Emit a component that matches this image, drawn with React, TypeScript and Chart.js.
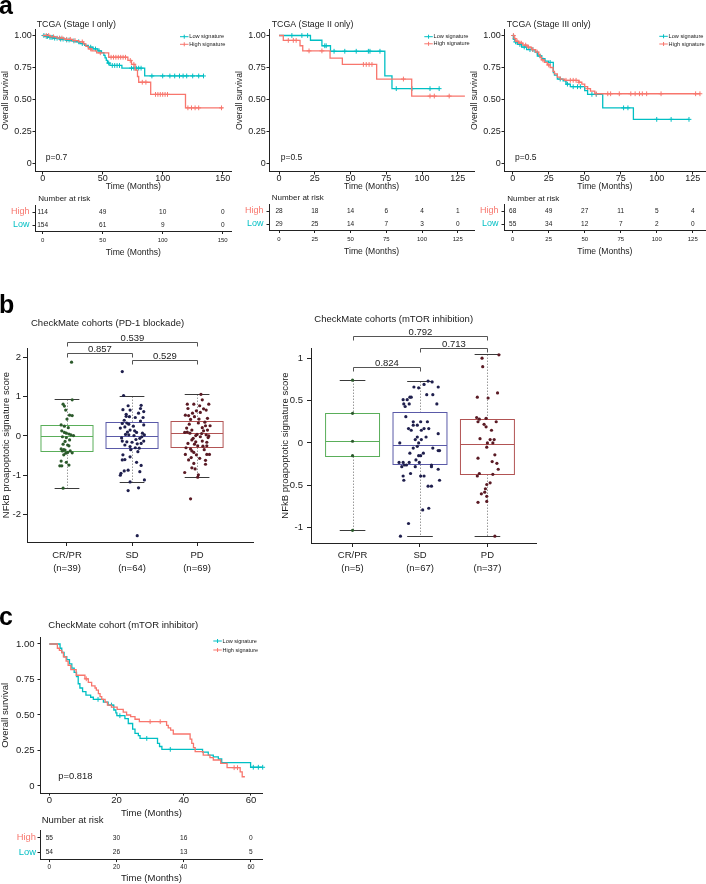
import React, { useEffect, useRef } from 'react';
import { Chart, registerables } from 'chart.js';

Chart.register(...registerables);

const W = 706;
const H = 884;
const FONT = '"Liberation Sans", Arial, Helvetica, sans-serif';
const RED = '#F8766D';
const TEAL = '#00BFC4';
const INK = '#1a1a1a';
const AXIS = '#222222';

type Step = [number, number];
type Jit = [number, number];

// ---------------- Panel a: TCGA Kaplan-Meier ----------------
const kmYTicks = [0, 0.25, 0.5, 0.75, 1];
const kmYLabels = ['0', '0.25', '0.50', '0.75', '1.00'];

const stage1Ticks = [0, 50, 100, 150];
const stage1Low: Step[] = [[0, 1], [2, 0.993], [5, 0.986], [9, 0.979], [14, 0.972], [19, 0.965], [24, 0.958], [28, 0.951], [31, 0.937], [35, 0.923], [38, 0.909], [42, 0.895], [46, 0.88], [49, 0.866], [51, 0.845], [52, 0.825], [53, 0.805], [54, 0.785], [56, 0.766], [66, 0.745], [85, 0.684]];
const stage1LowEnd = 134;
const stage1LowCens = [1, 3, 4, 6, 7, 8, 10, 12, 15, 17, 20, 22, 26, 30, 33, 40, 44, 47, 55, 58, 60, 62, 64, 74, 76, 78, 80, 82, 91, 100, 106, 110, 114, 117, 120, 125, 130, 134];
const stage1High: Step[] = [[0, 1], [6, 0.99], [12, 0.98], [18, 0.97], [25, 0.96], [30, 0.95], [34, 0.935], [36, 0.915], [38, 0.895], [41, 0.88], [45, 0.865], [55, 0.83], [71, 0.805], [74, 0.775], [77, 0.73], [79, 0.68], [80, 0.635], [90, 0.54], [119, 0.435]];
const stage1HighEnd = 150;
const stage1HighCens = [3, 5, 9, 14, 16, 20, 23, 27, 33, 40, 48, 57, 59, 61, 63, 65, 67, 69, 73, 76, 83, 86, 94, 96, 98, 100, 102, 104, 121, 124, 127, 130, 149];

const stage23Ticks = [0, 25, 50, 75, 100, 125];
const stage2Low: Step[] = [[0, 1], [22, 0.963], [30, 0.92], [36, 0.877], [74, 0.685], [79, 0.585]];
const stage2LowEnd = 112;
const stage2LowCens = [9, 16, 20, 32, 33, 38.5, 46, 54, 62.5, 63.6, 70.6, 82, 93, 105.6, 112];
const stage2High: Step[] = [[0, 1], [3, 0.962], [14.7, 0.92], [16.6, 0.88], [35.7, 0.824], [44.3, 0.774], [68.3, 0.66], [92.8, 0.527]];
const stage2HighEnd = 130;
const stage2HighCens = [6.5, 10, 12, 21, 30, 59, 61, 63, 65, 87, 105.6, 108.6, 119];

const stage3Low: Step[] = [[0, 1], [0.5, 0.97], [1.6, 0.95], [3.2, 0.93], [6.2, 0.91], [9.7, 0.89], [15.5, 0.87], [17.1, 0.84], [20.1, 0.82], [22.4, 0.8], [24.8, 0.79], [28.2, 0.71], [29, 0.69], [31, 0.66], [35, 0.645], [37, 0.62], [40, 0.6], [50, 0.57], [52, 0.54], [62.5, 0.435], [83.8, 0.345]];
const stage3LowEnd = 122.4;
const stage3LowCens = [2, 5, 8, 12, 14, 19, 26, 33, 38, 42, 45, 47, 55, 58, 77, 80, 100, 110, 122.4];
const stage3High: Step[] = [[0, 1], [1, 0.975], [2, 0.955], [4, 0.94], [7, 0.925], [10, 0.91], [13, 0.89], [16, 0.87], [18, 0.85], [19, 0.83], [20, 0.81], [22, 0.79], [24, 0.77], [26, 0.75], [28, 0.72], [29, 0.7], [31, 0.675], [33, 0.66], [36, 0.65], [46, 0.635], [48, 0.62], [50, 0.6], [52, 0.585], [54, 0.565], [57, 0.545]];
const stage3HighEnd = 130;
const stage3HighCens = [0.5, 1.5, 3, 5, 6, 9, 11, 14, 17, 21, 25, 37, 40, 42, 44, 46, 52, 58, 66, 68, 74, 82, 85, 88, 90, 93, 103, 127, 130];

// Number at risk (panel a)
const risk1Times = [0, 50, 100, 150];
const risk1High = [114, 49, 10, 0];
const risk1Low = [154, 61, 9, 0];
const risk2Times = [0, 25, 50, 75, 100, 125];
const risk2High = [28, 18, 14, 6, 4, 1];
const risk2Low = [29, 25, 14, 7, 3, 0];
const risk3Times = [0, 25, 50, 75, 100, 125];
const risk3High = [68, 49, 27, 11, 5, 4];
const risk3Low = [55, 34, 12, 7, 2, 0];

// ---------------- Panel b: box plots ----------------
const boxCats = ['CR/PR', 'SD', 'PD'];
const pd1N = [39, 64, 69];
const pd1YTicks = [-2, -1, 0, 1, 2];
const pd1Q1 = [-0.38, -0.3, -0.27];
const pd1Med = [0.01, 0.01, 0.07];
const pd1Q3 = [0.28, 0.35, 0.38];
const pd1Lo = [-1.33, -1.18, -1.05];
const pd1Hi = [0.93, 1.03, 1.06];
const pd1PLabels = ['0.539', '0.857', '0.529'];
const pd1PFrom = [1, 1, 2];
const pd1PTo = [3, 2, 3];
const pd1PLevel = [2.39, 2.11, 1.93];
// [jitter offset (category units), score]
const pd1CR: Jit[] = [[0.07, 1.88], [0.08, 0.92], [-0.06, 0.81], [-0.04, 0.76], [-0.02, 0.66], [0.04, 0.53], [0.08, 0.52], [0, 0.43], [-0.09, 0.28], [-0.04, 0.25], [0.02, 0.21], [-0.08, 0.13], [-0.04, 0.09], [-0.01, 0.07], [0.03, 0.05], [0.06, 0.03], [0.1, 0.01], [-0.07, -0.02], [-0.01, -0.04], [0.04, -0.1], [-0.03, -0.14], [-0.06, -0.21], [0.01, -0.23], [0.03, -0.25], [-0.09, -0.33], [-0.05, -0.35], [-0.03, -0.36], [-0.07, -0.38], [0.05, -0.38], [0.01, -0.42], [0.08, -0.43], [-0.02, -0.44], [-0.05, -0.48], [-0.09, -0.64], [-0.01, -0.67], [0.03, -0.74], [-0.11, -0.76], [-0.08, -0.76], [-0.06, -1.33]];
const pd1SD: Jit[] = [[-0.15, 1.64], [-0.13, 1.03], [-0.06, 0.77], [0.14, 0.78], [0.13, 0.7], [-0.14, 0.67], [-0.03, 0.66], [0.18, 0.62], [0.1, 0.58], [-0.09, 0.5], [-0.04, 0.49], [0.05, 0.47], [0.17, 0.47], [0.13, 0.38], [-0.15, 0.32], [-0.08, 0.33], [-0.05, 0.3], [-0.11, 0.23], [-0.18, 0.2], [-0.03, 0.15], [0.04, 0.13], [-0.1, 0.04], [0.07, 0.09], [-0.05, 0.03], [0.16, 0.07], [0.19, 0.03], [0.03, 0.01], [0.12, -0.06], [-0.15, -0.13], [-0.08, -0.15], [0, -0.16], [0.18, -0.13], [0.08, -0.2], [0.14, -0.19], [-0.11, -0.23], [-0.03, -0.27], [0.05, -0.3], [0.11, -0.31], [-0.14, -0.48], [-0.03, -0.53], [-0.15, -0.61], [-0.11, -0.6], [0.07, -0.67], [-0.06, -0.87], [-0.12, -0.89], [-0.17, -0.95], [0.12, -0.91], [-0.03, -1.17], [0.19, -1.12], [-0.06, -1.39], [0.1, -1.32], [0.08, -2.54], [-0.12, 0.4], [0.02, 0.25], [-0.07, 0.1], [0.15, -0.02], [-0.16, -0.05], [0.06, -0.09], [-0.02, -0.35], [0.09, -0.4], [0.18, 0.28], [-0.09, 0.55], [0.14, -0.75], [-0.18, -1.0]];
const pd1PD: Jit[] = [[0.06, 1.06], [-0.15, 0.81], [-0.05, 0.81], [0.04, 0.77], [0.18, 0.81], [-0.14, 0.7], [0.1, 0.69], [0.14, 0.66], [-0.01, 0.64], [-0.07, 0.58], [-0.18, 0.53], [-0.13, 0.52], [-0.04, 0.49], [0.03, 0.43], [0.13, 0.26], [0.2, 0.26], [0.08, 0.21], [-0.16, 0.2], [-0.08, 0.15], [0.1, 0.13], [0.16, 0.15], [-0.19, 0.09], [-0.11, 0.07], [0, 0.04], [-0.02, 0.01], [0.05, -0.02], [0.14, 0.03], [0.17, -0.04], [-0.08, -0.1], [0.08, -0.13], [0.15, -0.16], [-0.14, -0.19], [-0.04, -0.21], [0.01, -0.25], [0.09, -0.26], [0.15, -0.25], [-0.1, -0.33], [-0.08, -0.38], [-0.05, -0.42], [-0.18, -0.47], [0.15, -0.47], [0.19, -0.47], [-0.01, -0.48], [0.04, -0.57], [-0.13, -0.61], [0.13, -0.72], [-0.08, -0.81], [-0.03, -0.84], [-0.19, -0.93], [0.02, -0.99], [0.01, -1.05], [-0.1, -1.6], [0.12, 0.35], [-0.12, 0.3], [0.02, 0.33], [-0.15, 0.1], [0.18, 0.0], [-0.06, -0.06], [0.07, 0.06], [-0.17, -0.3], [0.11, -0.35], [-0.02, -0.15], [0.16, 0.45], [-0.1, 0.42], [0.05, 0.6], [-0.09, -0.55], [0.13, -0.62], [-0.05, -0.7], [0.08, 0.92]];

const mtorN = [5, 67, 37];
const mtorYTicks = [-1, -0.5, 0, 0.5, 1];
const mtorYLabels = ['-1', '-0.5', '0', '0.5', '1'];
const mtorQ1 = [-0.15, -0.25, -0.37];
const mtorMed = [0.02, -0.02, -0.01];
const mtorQ3 = [0.35, 0.37, 0.28];
const mtorLo = [-1.03, -1.1, -1.1];
const mtorHi = [0.74, 0.73, 1.05];
const mtorPLabels = ['0.792', '0.713', '0.824'];
const mtorPFrom = [1, 2, 1];
const mtorPTo = [3, 3, 2];
const mtorPLevel = [1.265, 1.117, 0.893];
const mtorCR: Jit[] = [[0, 0.74], [0, 0.35], [0, 0.02], [0, -0.15], [0, -1.03]];
const mtorSD: Jit[] = [[0.12, 0.73], [0.18, 0.72], [0.06, 0.69], [-0.09, 0.66], [-0.02, 0.65], [0.27, 0.66], [0.1, 0.57], [0.19, 0.57], [-0.15, 0.54], [-0.13, 0.54], [-0.25, 0.51], [-0.19, 0.51], [-0.24, 0.46], [-0.16, 0.46], [0.25, 0.46], [-0.22, 0.43], [-0.21, 0.31], [-0.1, 0.25], [0.01, 0.25], [0.11, 0.25], [-0.1, 0.21], [-0.04, 0.21], [-0.17, 0.17], [0.06, 0.17], [0.13, 0.17], [-0.13, 0.15], [0.02, 0.15], [0.27, 0.11], [-0.04, 0.07], [0.09, 0.07], [-0.07, 0.04], [0.02, 0.04], [-0.3, 0.0], [-0.02, 0.0], [-0.04, -0.04], [-0.1, -0.06], [0.19, -0.06], [0.27, -0.09], [0.29, -0.09], [-0.15, -0.12], [0.05, -0.12], [-0.02, -0.15], [0.01, -0.15], [-0.06, -0.2], [-0.31, -0.23], [-0.25, -0.23], [-0.16, -0.23], [-0.01, -0.23], [-0.23, -0.26], [-0.2, -0.26], [0.17, -0.26], [-0.27, -0.28], [-0.07, -0.28], [0.17, -0.28], [0.27, -0.31], [-0.14, -0.36], [-0.25, -0.39], [0.01, -0.39], [0.06, -0.39], [-0.24, -0.44], [0.29, -0.44], [0.12, -0.51], [0.17, -0.51], [0.13, -0.77], [0.04, -0.79], [-0.17, -0.95], [-0.29, -1.1]];
const mtorPD: Jit[] = [[0.17, 1.04], [-0.08, 1.0], [-0.07, 0.9], [-0.15, 0.54], [0.01, 0.53], [0.15, 0.59], [-0.16, 0.3], [-0.12, 0.28], [-0.02, 0.29], [-0.14, 0.25], [-0.02, 0.19], [0.06, 0.15], [-0.11, 0.05], [0.04, 0.04], [0.1, 0.04], [0, 0.0], [0.08, 0.0], [-0.01, -0.05], [0.11, -0.14], [-0.14, -0.18], [0.14, -0.24], [0.16, -0.31], [-0.12, -0.36], [-0.15, -0.39], [0.08, -0.37], [0.04, -0.47], [-0.01, -0.49], [-0.03, -0.54], [-0.04, -0.58], [-0.01, -0.63], [-0.14, -0.7], [-0.01, -0.69], [0.11, -1.1], [0.13, 0.25], [-0.05, 0.22], [0.07, -0.22], [-0.09, -0.6]];

// ---------------- Panel c: CheckMate mTOR KM ----------------
const cTicks = [0, 20, 40, 60];
const cLow: Step[] = [[0, 1], [3.2, 0.97], [3.7, 0.94], [4.4, 0.91], [5.2, 0.89], [6, 0.86], [6.7, 0.83], [7.4, 0.8], [8.1, 0.77], [8.6, 0.72], [9.1, 0.69], [9.9, 0.665], [10.9, 0.64], [12.3, 0.625], [13.1, 0.61], [16.1, 0.59], [17.5, 0.57], [19.2, 0.535], [19.8, 0.515], [20.1, 0.495], [22.5, 0.475], [23.5, 0.44], [24.8, 0.4], [25.5, 0.37], [26.5, 0.355], [27, 0.335], [32.2, 0.3], [32.8, 0.278], [33.5, 0.258], [45.6, 0.238], [47.3, 0.218], [48.8, 0.205], [50.3, 0.19], [51.3, 0.165], [59.9, 0.132]];
const cLowEnd = 63.5;
const cLowCens = [14.5, 18.5, 21, 29, 36, 60.7, 62.2, 63.5];
const cHigh: Step[] = [[0, 1], [2.4, 0.97], [3, 0.955], [3.7, 0.94], [4.2, 0.91], [5, 0.88], [5.6, 0.85], [6.4, 0.82], [8, 0.78], [10.6, 0.755], [11.6, 0.73], [12.6, 0.705], [13.6, 0.69], [14, 0.675], [14.6, 0.65], [15.1, 0.63], [15.6, 0.61], [16.6, 0.59], [17.3, 0.57], [18.5, 0.555], [20.2, 0.54], [22, 0.52], [23, 0.5], [24.2, 0.488], [25.5, 0.47], [26.8, 0.453], [34.9, 0.427], [35.4, 0.41], [36.1, 0.394], [36.9, 0.366], [41.9, 0.33], [42.4, 0.3], [42.9, 0.27], [43.4, 0.242], [45.8, 0.218], [47.8, 0.2], [48.8, 0.183], [51, 0.16], [52.9, 0.129], [56.8, 0.1], [57.4, 0.065]];
const cHighEnd = 58.2;
const cHighCens = [11, 30, 33, 55, 56];
const riskCTimes = [0, 20, 40, 60];
const riskCHigh = [55, 30, 16, 0];
const riskCLow = [54, 26, 13, 5];

// ---------------- helpers ----------------
function survAt(steps: Step[], t: number) {
  let s = 1;
  for (const [tt, v] of steps) {
    if (tt <= t) s = v;
    else break;
  }
  return s;
}
function curvePoints(steps: Step[], end: number) {
  const pts = steps.map(([x, y]) => ({ x, y }));
  pts.push({ x: end, y: steps[steps.length - 1][1] });
  return pts;
}
function censorPoints(steps: Step[], times: number[]) {
  return times.map((t) => ({ x: t, y: survAt(steps, t) }));
}

function drawText(ctx: CanvasRenderingContext2D, s: string, x: number, y: number, size: number, o: any = {}) {
  ctx.save();
  ctx.font = `${o.bold ? 'bold ' : ''}${size}px ${FONT}`;
  ctx.fillStyle = o.color ?? INK;
  ctx.textAlign = o.align ?? 'left';
  ctx.textBaseline = o.baseline ?? 'middle';
  ctx.fillText(s, x, y);
  ctx.restore();
}

function seg(ctx: CanvasRenderingContext2D, x1: number, y1: number, x2: number, y2: number) {
  ctx.beginPath();
  ctx.moveTo(x1, y1);
  ctx.lineTo(x2, y2);
  ctx.stroke();
}

interface Frame { L: number; R: number; T: number; B: number; padLeft: number; xH: number; }

function baseOptions(f: Frame) {
  return {
    responsive: false,
    animation: false,
    devicePixelRatio: 1,
    events: [],
    layout: { autoPadding: false, padding: { left: f.padLeft, right: W - f.R, top: f.T, bottom: H - f.B - f.xH } },
    plugins: { legend: { display: false }, tooltip: { enabled: false }, title: { display: false } },
  };
}

function xAxis(o: any) {
  return {
    type: 'linear', position: 'bottom', min: o.min, max: o.max,
    afterBuildTicks: (s: any) => { s.ticks = o.ticks.map((v: number) => ({ value: v })); },
    afterFit: (s: any) => { s.height = o.height; },
    grid: { drawOnChartArea: false, drawTicks: true, tickLength: o.tickLen, color: AXIS, lineWidth: 1 },
    border: { display: true, color: AXIS, width: 1 },
    ticks: {
      autoSkip: false, maxRotation: 0, minRotation: 0, padding: o.pad, color: INK,
      font: { family: FONT, size: o.size, lineHeight: o.lh ?? 1 },
      callback: (v: number, i: number) => (o.labels ? o.labels[i] : String(v)),
    },
    title: o.title
      ? { display: true, text: o.title, color: INK, font: { family: FONT, size: o.titleSize, lineHeight: 1.2 }, padding: { top: 0, bottom: 0 } }
      : { display: false },
  };
}

function yAxis(o: any) {
  return {
    type: 'linear', position: 'left', min: o.min, max: o.max,
    afterBuildTicks: (s: any) => { s.ticks = o.ticks.map((v: number) => ({ value: v })); },
    afterFit: (s: any) => { s.width = o.width; },
    grid: { drawOnChartArea: false, drawTicks: true, tickLength: o.tickLen, color: AXIS, lineWidth: 1 },
    border: { display: true, color: AXIS, width: 1 },
    ticks: {
      autoSkip: false, padding: o.pad, color: o.color ?? INK,
      font: { family: FONT, size: o.size, lineHeight: 1 },
      callback: (v: number, i: number) => (o.labels ? o.labels[i] : String(v)),
    },
    title: o.title
      ? { display: true, text: o.title, color: INK, font: { family: FONT, size: o.titleSize, lineHeight: 1.2 }, padding: { top: 0, bottom: 0 } }
      : { display: false },
  };
}

// ---------------- KM chart ----------------
function kmChart(o: any) {
  const f: Frame = { L: o.L, R: o.R, T: o.T, B: o.B, padLeft: o.padLeft, xH: o.xTitleCenter + (o.axTitleSize * 1.2) / 2 - o.B };
  const line = (d: any, c: string) => ({ type: 'line', data: d, borderColor: c, borderWidth: 1.3, stepped: true, pointRadius: 0, fill: false, clip: false });
  const cens = (d: any, c: string) => ({ type: 'scatter', data: d, pointStyle: 'cross', pointRadius: 2.4, borderColor: c, borderWidth: 1, clip: false });
  return {
    type: 'line',
    data: {
      datasets: [
        line(curvePoints(o.high, o.highEnd), RED),
        line(curvePoints(o.low, o.lowEnd), TEAL),
        cens(censorPoints(o.high, o.highCens), RED),
        cens(censorPoints(o.low, o.lowCens), TEAL),
      ],
    },
    options: {
      ...baseOptions(f),
      scales: {
        x: xAxis({ min: o.xMin, max: o.xMax, ticks: o.xTicks, size: o.tickSize, tickLen: 2.5, pad: o.xPad, height: f.xH, title: 'Time (Months)', titleSize: o.axTitleSize }),
        y: yAxis({ min: o.yMin, max: o.yMax, ticks: kmYTicks, labels: kmYLabels, size: o.tickSize, tickLen: 2.5, pad: o.yPad, width: o.L - o.padLeft, title: 'Overall survival', titleSize: o.axTitleSize }),
      },
    },
    plugins: [{
      id: 'kmExtras',
      afterDraw(chart: any) {
        const ctx = chart.ctx as CanvasRenderingContext2D;
        drawText(ctx, o.title, o.titleX, o.titleY, o.titleSize);
        drawText(ctx, o.p, o.pX, o.pY, o.pSize);
        const items: [string, string, number][] = [[TEAL, 'Low signature', o.legY1], [RED, 'High signature', o.legY2]];
        for (const [c, label, yy] of items) {
          ctx.save();
          ctx.strokeStyle = c;
          ctx.lineWidth = 1;
          seg(ctx, o.legX, yy, o.legX + 8.5, yy);
          seg(ctx, o.legX + 4.25, yy - 2, o.legX + 4.25, yy + 2);
          ctx.restore();
          drawText(ctx, label, o.legX + 9.3, yy, o.legSize);
        }
        if (o.letter) drawText(ctx, o.letter, o.letterX, o.letterY, 25, { bold: true, baseline: 'alphabetic', color: '#000' });
      },
    }],
  };
}

// ---------------- Risk table chart ----------------
function riskChart(o: any) {
  const rowUnit = o.lowY - o.highY;
  const T = o.highY - rowUnit / 2;
  const B = o.lowY + rowUnit / 2;
  const xH = o.titleCenter + (o.titleSize * 1.2) / 2 - B;
  const f: Frame = { L: o.L, R: o.R, T, B, padLeft: 0, xH };
  const pad = o.tickCenter - B - 2.5 - o.tickSize / 2;
  return {
    type: 'scatter',
    data: {
      datasets: [
        { data: o.times.map((t: number) => ({ x: t, y: 2 })), pointRadius: 0 },
        { data: o.times.map((t: number) => ({ x: t, y: 1 })), pointRadius: 0 },
      ],
    },
    options: {
      ...baseOptions(f),
      scales: {
        x: xAxis({ min: o.xMin, max: o.xMax, ticks: o.times, size: o.tickSize, tickLen: 2.5, pad, height: xH, title: 'Time (Months)', titleSize: o.titleSize }),
        y: yAxis({ min: 0.5, max: 2.5, ticks: [1, 2], labels: ['Low', 'High'], size: o.rowSize, tickLen: 2.5, pad: o.L - 2.5 - o.labelRight, width: o.L, color: (c: any) => (c.tick && c.tick.value === 2 ? RED : TEAL) }),
      },
    },
    plugins: [{
      id: 'riskNumbers',
      afterDraw(chart: any) {
        const ctx = chart.ctx as CanvasRenderingContext2D;
        const xs = chart.scales.x;
        const ys = chart.scales.y;
        o.times.forEach((t: number, i: number) => {
          drawText(ctx, String(o.high[i]), xs.getPixelForValue(t), ys.getPixelForValue(2), o.numSize, { align: 'center' });
          drawText(ctx, String(o.low[i]), xs.getPixelForValue(t), ys.getPixelForValue(1), o.numSize, { align: 'center' });
        });
        drawText(ctx, 'Number at risk', o.headX, o.headY, o.headSize);
      },
    }],
  };
}

// ---------------- Box plot chart ----------------
const BOX_COLORS = ['#5aae5a', '#5a5aa8', '#b25454'];
const DOT_COLORS = ['#2c5a2c', '#1f1f4d', '#5a1a24'];

function boxChart(o: any) {
  const f: Frame = { L: o.L, R: o.R, T: o.T, B: o.B, padLeft: o.padLeft, xH: 40 };
  const groups: Jit[][] = o.groups;
  return {
    type: 'scatter',
    data: {
      datasets: groups.map((g, i) => ({
        data: g.map(([off, v]) => ({ x: i + 1 + off, y: v })),
        pointRadius: 1.6,
        pointBorderWidth: 0,
        backgroundColor: DOT_COLORS[i],
        borderColor: DOT_COLORS[i],
        clip: false,
      })),
    },
    options: {
      ...baseOptions(f),
      scales: {
        x: xAxis({ min: o.xMin, max: o.xMax, ticks: [1, 2, 3], labels: boxCats.map((c, i) => [c, `(n=${o.n[i]})`]), size: 9.5, lh: 1.4, tickLen: 4, pad: o.xPad, height: 40 }),
        y: yAxis({ min: o.yMin, max: o.yMax, ticks: o.yTicks, labels: o.yLabels, size: 9.5, tickLen: 4, pad: o.yPad, width: o.L - o.padLeft, title: 'NFkB proapoptotic signature score', titleSize: 9.5 }),
      },
    },
    plugins: [{
      id: 'boxes',
      beforeDatasetsDraw(chart: any) {
        const ctx = chart.ctx as CanvasRenderingContext2D;
        const xs = chart.scales.x;
        const ys = chart.scales.y;
        const py = (v: number) => Math.round(ys.getPixelForValue(v)) + 0.5;
        for (let i = 0; i < 3; i++) {
          const c = i + 1;
          const xc = Math.round(xs.getPixelForValue(c)) + 0.5;
          const xl = xs.getPixelForValue(c - 0.4);
          const xr = xs.getPixelForValue(c + 0.4);
          const cl = xs.getPixelForValue(c - 0.19);
          const cr = xs.getPixelForValue(c + 0.19);
          ctx.save();
          ctx.lineWidth = 1;
          ctx.strokeStyle = '#9a9a9a';
          ctx.setLineDash([1.5, 1.5]);
          seg(ctx, xc, py(o.hi[i]), xc, py(o.q3[i]));
          seg(ctx, xc, py(o.q1[i]), xc, py(o.lo[i]));
          ctx.setLineDash([]);
          ctx.strokeStyle = '#3a3a3a';
          seg(ctx, cl, py(o.hi[i]), cr, py(o.hi[i]));
          seg(ctx, cl, py(o.lo[i]), cr, py(o.lo[i]));
          ctx.strokeStyle = BOX_COLORS[i];
          ctx.strokeRect(xl, py(o.q3[i]), xr - xl, py(o.q1[i]) - py(o.q3[i]));
          seg(ctx, xl, py(o.med[i]), xr, py(o.med[i]));
          ctx.restore();
        }
      },
      afterDraw(chart: any) {
        const ctx = chart.ctx as CanvasRenderingContext2D;
        const xs = chart.scales.x;
        const ys = chart.scales.y;
        o.pLabels.forEach((lab: string, k: number) => {
          const x1 = Math.round(xs.getPixelForValue(o.pFrom[k])) + 0.5;
          const x2 = Math.round(xs.getPixelForValue(o.pTo[k])) + 0.5;
          const yy = Math.round(ys.getPixelForValue(o.pLevel[k])) + 0.5;
          ctx.save();
          ctx.strokeStyle = '#555';
          ctx.lineWidth = 1;
          ctx.beginPath();
          ctx.moveTo(x1, yy + 4);
          ctx.lineTo(x1, yy);
          ctx.lineTo(x2, yy);
          ctx.lineTo(x2, yy + 4);
          ctx.stroke();
          ctx.restore();
          drawText(ctx, lab, (x1 + x2) / 2, yy - 1.2, 9.5, { align: 'center', baseline: 'alphabetic', color: '#222' });
        });
        drawText(ctx, o.title, o.titleX, o.titleY, 9.5);
        if (o.letter) drawText(ctx, o.letter, o.letterX, o.letterY, 25, { bold: true, baseline: 'alphabetic', color: '#000' });
      },
    }],
  };
}

// ---------------- chart factories ----------------
const kmA = { T: 29.1, B: 172, yMin: -0.066, yMax: 1.05, tickSize: 9, axTitleSize: 8.6, titleSize: 8.8, pSize: 8.5, legSize: 5.6, xPad: 0, yPad: 0.8, xTitleCenter: 187 };

const makers: (() => any)[] = [
  () => kmChart({
    ...kmA, low: stage1Low, lowEnd: stage1LowEnd, lowCens: stage1LowCens, high: stage1High, highEnd: stage1HighEnd, highCens: stage1HighCens,
    xMin: -6.4, xMax: 157.5, xTicks: stage1Ticks, L: 35, R: 231.7, padLeft: 0.8,
    title: 'TCGA (Stage I only)', titleX: 36.7, titleY: 25, p: 'p=0.7', pX: 45.7, pY: 157.5,
    legX: 180, legY1: 36.7, legY2: 44.3, letter: 'a', letterX: -1, letterY: 14,
  }),
  () => kmChart({
    ...kmA, low: stage2Low, lowEnd: stage2LowEnd, lowCens: stage2LowCens, high: stage2High, highEnd: stage2HighEnd, highCens: stage2HighCens,
    xMin: -7.0, xMax: 136.5, xTicks: stage23Ticks, L: 269, R: 474.2, padLeft: 234.5,
    title: 'TCGA (Stage II only)', titleX: 271.7, titleY: 25, p: 'p=0.5', pX: 280.7, pY: 158,
    legX: 424.3, legY1: 36.7, legY2: 43.8,
  }),
  () => kmChart({
    ...kmA, low: stage3Low, lowEnd: stage3LowEnd, lowCens: stage3LowCens, high: stage3High, highEnd: stage3HighEnd, highCens: stage3HighCens,
    xMin: -6.04, xMax: 134, xTicks: stage23Ticks, L: 504, R: 705.7, padLeft: 469.5,
    title: 'TCGA (Stage III only)', titleX: 506.7, titleY: 25, p: 'p=0.5', pX: 515, pY: 157.7,
    legX: 659.3, legY1: 36.3, legY2: 44,
  }),
  () => riskChart({ times: risk1Times, high: risk1High, low: risk1Low, xMin: -6.4, xMax: 157.5, L: 35, R: 231.7, highY: 212, lowY: 225, tickCenter: 240, tickSize: 6, titleCenter: 253, titleSize: 8.6, rowSize: 9, labelRight: 29.5, numSize: 6.5, headX: 38.3, headY: 199, headSize: 8 }),
  () => riskChart({ times: risk2Times, high: risk2High, low: risk2Low, xMin: -7.0, xMax: 136.5, L: 269, R: 474.2, highY: 211, lowY: 224, tickCenter: 239, tickSize: 6, titleCenter: 252, titleSize: 8.6, rowSize: 9, labelRight: 263.5, numSize: 6.5, headX: 271.7, headY: 198, headSize: 8 }),
  () => riskChart({ times: risk3Times, high: risk3High, low: risk3Low, xMin: -6.04, xMax: 134, L: 504, R: 705.7, highY: 211, lowY: 224, tickCenter: 239, tickSize: 6, titleCenter: 252, titleSize: 8.6, rowSize: 9, labelRight: 498.5, numSize: 6.5, headX: 507.3, headY: 198.3, headSize: 8 }),
  () => boxChart({
    groups: [pd1CR, pd1SD, pd1PD], n: pd1N, q1: pd1Q1, med: pd1Med, q3: pd1Q3, lo: pd1Lo, hi: pd1Hi,
    pLabels: pd1PLabels, pFrom: pd1PFrom, pTo: pd1PTo, pLevel: pd1PLevel,
    L: 27, R: 253, T: 348, B: 542, padLeft: 0.6, xMin: 0.385, xMax: 3.86, yMin: -2.7, yMax: 2.24,
    yTicks: pd1YTicks, yLabels: pd1YTicks.map(String), yPad: 2, xPad: 2.35,
    title: 'CheckMate cohorts (PD-1 blockade)', titleX: 31, titleY: 323, letter: 'b', letterX: -1, letterY: 313,
  }),
  () => boxChart({
    groups: [mtorCR, mtorSD, mtorPD], n: mtorN, q1: mtorQ1, med: mtorMed, q3: mtorQ3, lo: mtorLo, hi: mtorHi,
    pLabels: mtorPLabels, pFrom: mtorPFrom, pTo: mtorPTo, pLevel: mtorPLevel,
    L: 311, R: 536, T: 348, B: 543, padLeft: 279.8, xMin: 0.384, xMax: 3.72, yMin: -1.18, yMax: 1.12,
    yTicks: mtorYTicks, yLabels: mtorYLabels, yPad: 4, xPad: 1.35,
    title: 'CheckMate cohorts (mTOR inhibition)', titleX: 314.3, titleY: 319,
  }),
  () => kmChart({
    low: cLow, lowEnd: cLowEnd, lowCens: cLowCens, high: cHigh, highEnd: cHighEnd, highCens: cHighCens,
    xMin: -2.77, xMax: 63.5, xTicks: cTicks, L: 40, R: 262.7, T: 637.6, B: 793.1, yMin: -0.05, yMax: 1.045, padLeft: 0,
    tickSize: 9.5, axTitleSize: 9.5, titleSize: 9.5, pSize: 9.4, legSize: 5.5, xPad: 0, yPad: 3, xTitleCenter: 813,
    title: 'CheckMate cohort (mTOR inhibitor)', titleX: 48.3, titleY: 625, p: 'p=0.818', pX: 58.3, pY: 776.5,
    legX: 213.3, legY1: 641, legY2: 650, letter: 'c', letterX: -1, letterY: 625,
  }),
  () => riskChart({ times: riskCTimes, high: riskCHigh, low: riskCLow, xMin: -2.77, xMax: 63.5, L: 40, R: 262.7, highY: 837.7, lowY: 852.3, tickCenter: 867.7, tickSize: 6.3, titleCenter: 878.3, titleSize: 9.5, rowSize: 9.4, labelRight: 36, numSize: 6.6, headX: 41.7, headY: 820, headSize: 9.5 }),
];

function ChartCanvas({ make }: { make: () => any }) {
  const ref = useRef<HTMLCanvasElement>(null);
  useEffect(() => {
    const chart = new Chart(ref.current as HTMLCanvasElement, make());
    return () => chart.destroy();
  }, []);
  return <canvas ref={ref} width={W} height={H} style={{ position: 'absolute', left: 0, top: 0, width: W, height: H }} />;
}

export default function App() {
  return (
    <div style={{ position: 'absolute', left: 0, top: 0, width: W, height: H, background: '#fff', overflow: 'hidden' }}>
      {makers.map((m, i) => <ChartCanvas key={i} make={m} />)}
    </div>
  );
}
